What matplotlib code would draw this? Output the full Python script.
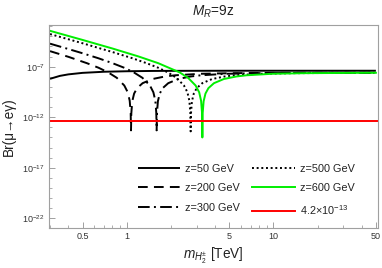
import numpy as np
import matplotlib
matplotlib.use("Agg")
import matplotlib.pyplot as plt
from matplotlib.ticker import FixedLocator, NullFormatter, FixedFormatter

plt.rcParams['font.family'] = ['Liberation Sans', 'DejaVu Sans']
plt.rcParams['mathtext.fontset'] = 'custom'
plt.rcParams['mathtext.rm'] = 'Liberation Sans'
plt.rcParams['mathtext.it'] = 'Liberation Sans:italic'
plt.rcParams['mathtext.bf'] = 'Liberation Sans:bold'

# ---- data (m in TeV, log10 of Br) ----
m_z50 = [0.3, 0.35, 0.4, 0.5, 0.7, 1.0, 1.5, 2.0, 5.0, 50.0]
logbr_z50 = [-8.2, -7.91, -7.76, -7.61, -7.50, -7.45, -7.42, -7.41, -7.40, -7.40]

m_z200 = [0.3, 0.4, 0.535, 0.642, 0.749, 0.856, 0.963, 1.0165, 1.0486, 1.0647, 1.07,
          1.0754, 1.0914, 1.1235, 1.177, 1.284, 1.498, 1.819, 2.14, 3.21, 5.35, 10.7, 50.0]
logbr_z200 = [-5.46, -6.02, -6.65, -7.10, -7.57, -8.10, -8.86, -9.53, -10.37, -11.59, -13.3,
              -11.61, -10.42, -9.66, -9.12, -8.63, -8.22, -7.97, -7.85, -7.70, -7.64, -7.61, -7.60]

m_z300 = [0.3, 0.4, 0.5, 0.64, 0.8, 0.96, 1.12, 1.28, 1.44, 1.52, 1.568, 1.592, 1.6,
          1.608, 1.632, 1.68, 1.76, 1.92, 2.24, 2.72, 3.2, 4.8, 8.0, 16.0, 50.0]
logbr_z300 = [-4.72, -5.25, -5.67, -6.16, -6.65, -7.10, -7.57, -8.10, -8.86, -9.53, -10.37, -11.59, -13.3,
              -11.61, -10.42, -9.66, -9.12, -8.63, -8.22, -7.97, -7.85, -7.70, -7.64, -7.61, -7.60]

m_z500 = [0.3, 0.5, 0.8, 1.092, 1.365, 1.638, 1.911, 2.184, 2.457, 2.594, 2.675, 2.716, 2.73,
          2.744, 2.785, 2.867, 3.003, 3.276, 3.822, 4.641, 5.46, 8.19, 13.65, 50.0]
logbr_z500 = [-3.77, -4.68, -5.55, -6.16, -6.65, -7.10, -7.57, -8.10, -8.86, -9.53, -10.37, -11.59, -13.4,
              -11.61, -10.42, -9.66, -9.12, -8.63, -8.22, -7.97, -7.85, -7.70, -7.64, -7.60]

m_z600 = [0.3, 0.5, 0.8, 1.2, 1.64, 2.3, 2.62, 2.95, 3.12, 3.215, 3.264, 3.28,
          3.296, 3.346, 3.444, 3.608, 3.936, 4.592, 5.576, 6.56, 9.84, 16.4, 50.0]
logbr_z600 = [-3.45, -4.35, -5.20, -5.98, -6.65, -7.57, -8.10, -8.86, -9.53, -10.37, -11.59, -14.0,
              -11.61, -10.42, -9.66, -9.12, -8.63, -8.22, -7.97, -7.85, -7.70, -7.64, -7.60]

br_limit = 4.2e-13

labels = ["z=50 GeV", "z=200 GeV", "z=300 GeV", "z=500 GeV", "z=600 GeV", r"4.2$\times$10$^{-13}$"]

xticks_major = [0.5, 1, 5, 10, 50]
xtick_labels = ["0.5", "1", "5", "10", "50"]
yticks_major_exp = [-7, -12, -17, -22]

# ---- figure ----
fig = plt.figure(figsize=(3.82, 2.68), dpi=100)
ax = fig.add_axes([49 / 382, 1 - 228 / 268, (377.5 - 49) / 382, (228 - 25) / 268])

lw = 1.4
h1, = ax.plot(m_z50, 10.0 ** np.array(logbr_z50), color='black', lw=lw, solid_capstyle='butt')
h2, = ax.plot(m_z200, 10.0 ** np.array(logbr_z200), color='black', lw=lw, dashes=(5, 3.2))
h3, = ax.plot(m_z300, 10.0 ** np.array(logbr_z300), color='black', lw=lw, dashes=(6, 2.2, 1, 2.2))
h4, = ax.plot(m_z500, 10.0 ** np.array(logbr_z500), color='black', lw=lw, dashes=(1, 1.4))
h5, = ax.plot(m_z600, 10.0 ** np.array(logbr_z600), color='#00ee00', lw=lw)
h6 = ax.axhline(br_limit, color='#ff0000', lw=lw)

ax.set_xscale('log')
ax.set_yscale('log')
ax.set_xlim(10 ** -0.5297, 10 ** 1.71)
ax.set_ylim(10 ** -22.96, 10 ** -2.874)

frame_c = '#a0a0a0'
for s in ax.spines.values():
    s.set_color(frame_c)
    s.set_linewidth(0.8)

ax.xaxis.set_major_locator(FixedLocator(xticks_major))
ax.xaxis.set_major_formatter(FixedFormatter(xtick_labels))
minor_x = [0.3, 0.4, 0.6, 0.7, 0.8, 0.9, 2, 3, 4, 6, 7, 8, 9, 20, 30, 40]
ax.xaxis.set_minor_locator(FixedLocator(minor_x))
ax.xaxis.set_minor_formatter(NullFormatter())

ax.yaxis.set_major_locator(FixedLocator([10.0 ** e for e in yticks_major_exp]))
ax.yaxis.set_major_formatter(FixedFormatter([r"$10^{%d}$" % e for e in yticks_major_exp]))
ax.yaxis.set_minor_locator(FixedLocator([10.0 ** e for e in range(-22, -2) if e not in yticks_major_exp]))
ax.yaxis.set_minor_formatter(NullFormatter())

ax.tick_params(which='both', direction='in', color=frame_c, labelcolor='#333333', labelsize=6.5,
               top=False, right=False)
ax.tick_params(which='major', length=4, width=0.7, pad=3)
ax.tick_params(which='minor', length=2, width=0.6)

ax.set_title(r"$M_R$=9z", fontsize=9.8, color='#222222', pad=7)
ax.set_xlabel(r"$m_{H_2^{\pm}}$ [TeV]", fontsize=9.8, color='#222222', labelpad=3)
ax.set_ylabel("Br(μ→eγ)", fontsize=9.8, color='#222222', labelpad=5)

leg = fig.legend([h1, h2, h3, h4, h5, h6], labels, ncol=2, frameon=False,
                 loc='upper left', bbox_to_anchor=(137.5 / 382, 1 - 163.5 / 268),
                 fontsize=7.8, handlelength=3.9, handletextpad=0.5,
                 columnspacing=1.15, labelspacing=0.9, borderpad=0, borderaxespad=0)
for t in leg.get_texts():
    t.set_color('#222222')

fig.savefig("out.png", dpi=100)
